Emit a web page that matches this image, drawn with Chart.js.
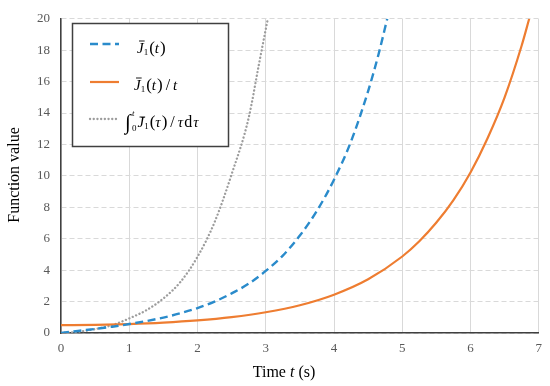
<!DOCTYPE html>
<html><head><meta charset="utf-8">
<script src="https://cdn.jsdelivr.net/npm/chart.js@4.4.1/dist/chart.umd.min.js"></script>
<style>html,body{margin:0;padding:0;background:#fff;}#wrap{width:550px;height:386px;position:relative;}</style>
</head><body><div id="wrap"><canvas id="c" width="550" height="386"></canvas></div>
<script>
// ---- data ----
const xTicks = [0,1,2,3,4,5,6,7];
const yTicks = [0,2,4,6,8,10,12,14,16,18,20];
const tBlue = [0,0.25,0.5,0.75,1,1.25,1.5,1.75,2,2.25,2.5,2.75,3,3.25,3.5,3.75,4,4.25,4.5,4.65,4.78];
const yBlue = [0,0.13,0.26,0.4,0.57,0.76,0.98,1.26,1.59,2.0,2.52,3.14,3.95,4.93,6.2,7.78,9.76,12.2,15.4,17.7,20];
const tOrange = [0,0.5,1,1.5,2,2.5,3,3.5,4,4.5,5,5.25,5.5,5.75,6,6.25,6.5,6.75,6.86];
const yOrange = [0.5,0.52,0.57,0.66,0.8,1.01,1.32,1.77,2.44,3.42,4.87,5.84,7.03,8.46,10.22,12.4,15.0,18.3,20];
const tGrey = [0,0.25,0.5,0.75,1,1.25,1.5,1.75,2,2.25,2.5,2.75,2.9,3.03];
const yGrey = [0,0.08,0.25,0.5,0.93,1.45,2.2,3.25,4.85,7.05,10.1,13.7,17.1,20];
const seriesNames = ['J\u03051(t)', 'J\u03051(t)/t', '\u222B0t J\u03051(\u03C4)/\u03C4d\u03C4'];
const xTitle = ['Time ', 't', ' (s)'];
const yTitle = 'Function value';

const pts = (xs, ys) => xs.map((x, i) => ({x: x, y: ys[i]}));
const SERIF = '"Liberation Serif", "Times New Roman", serif';

function rich(ctx, x, y, parts) {
  for (const p of parts) {
    ctx.font = p.f;
    const w = ctx.measureText(p.t).width;
    const px = x + (p.dx || 0);
    ctx.fillText(p.t, px, y + (p.dy || 0));
    if (p.bar) {
      ctx.save();
      ctx.lineWidth = 0.9;
      ctx.strokeStyle = '#000';
      ctx.beginPath();
      ctx.moveTo(px + 2, y - 12);
      ctx.lineTo(px + w + 1, y - 12);
      ctx.stroke();
      ctx.restore();
    }
    x = px + (p.adv === undefined ? w : p.adv) + (p.sp || 0);
  }
  return x;
}

const I = 'italic 15px ' + SERIF;
const R = '16px ' + SERIF;
const P = '17px ' + SERIF;
const S = '9px ' + SERIF;
const SI = 'italic 9px ' + SERIF;

const overlay = {
  id: 'overlay',
  afterDraw(chart) {
    const ctx = chart.ctx;
    ctx.save();
    // axis titles
    ctx.fillStyle = '#000';
    ctx.textBaseline = 'middle';
    ctx.textAlign = 'center';
    ctx.font = '16px ' + SERIF;
    ctx.save();
    ctx.translate(15, 175);
    ctx.rotate(-Math.PI / 2);
    ctx.fillText(yTitle, 0, 0);
    ctx.restore();
    ctx.textAlign = 'left';
    ctx.textBaseline = 'alphabetic';
    const xt = [{t: xTitle[0], f: R}, {t: xTitle[1], f: 'italic 16px ' + SERIF}, {t: xTitle[2], f: R}];
    let tw = 0;
    for (const p of xt) { ctx.font = p.f; tw += ctx.measureText(p.t).width; }
    rich(ctx, 284 - tw / 2, 377, xt);

    // legend box
    ctx.fillStyle = '#fff';
    ctx.fillRect(72.5, 23.5, 156, 123);
    ctx.strokeStyle = '#404040';
    ctx.lineWidth = 1.5;
    ctx.strokeRect(72.5, 23.5, 156, 123);
    const rowsY = [44, 82, 119];
    chart.data.datasets.forEach((ds, i) => {
      ctx.save();
      ctx.strokeStyle = ds.borderColor;
      ctx.lineWidth = ds.borderWidth;
      ctx.setLineDash(ds.borderDash || []);
      ctx.lineCap = ds.borderCapStyle || 'butt';
      ctx.beginPath();
      ctx.moveTo(90, rowsY[i]);
      ctx.lineTo(119, rowsY[i]);
      ctx.stroke();
      ctx.restore();
    });
    ctx.fillStyle = '#000';
    // row 1: J1(t)
    rich(ctx, 137, 53, [
      {t: 'J', f: I, bar: true}, {t: '1', f: S, dy: 2, sp: 1},
      {t: '(', f: P}, {t: 't', f: I, sp: 1}, {t: ')', f: P}
    ]);
    // row 2: J1(t)/t
    rich(ctx, 134, 90, [
      {t: 'J', f: I, bar: true}, {t: '1', f: S, dy: 2, sp: 1},
      {t: '(', f: P}, {t: 't', f: I, sp: 1}, {t: ')', f: P, sp: 3},
      {t: '/', f: R, sp: 3}, {t: 't', f: I}
    ]);
    // row 3: integral
    rich(ctx, 125, 129, [
      {t: '\u222B', f: 'italic 21px ' + SERIF, adv: 7},
      {t: 't', f: SI, dy: -13, adv: 0},
      {t: '0', f: S, dy: 2, sp: 1},
      {t: 'J', f: I, bar: true, dy: -2}, {t: '1', f: S, sp: 1},
      {t: '(', f: P, dy: -2}, {t: '\u03C4', f: I, sp: 1, dy: -2}, {t: ')', f: P, sp: 3, dy: -2},
      {t: '/', f: R, sp: 3, dy: -2}, {t: '\u03C4', f: I, sp: 1, dy: -2}, {t: 'd', f: R, sp: 1, dy: -2}, {t: '\u03C4', f: I, dy: -2}
    ]);
    ctx.restore();
  }
};

const tickFont = {family: SERIF, size: 13};
new Chart(document.getElementById('c'), {
  type: 'line',
  data: {
    datasets: [
      {label: seriesNames[0], data: pts(tBlue, yBlue), borderColor: '#2A8BCB', borderWidth: 2.4,
       borderDash: [8, 4.5], pointRadius: 0, cubicInterpolationMode: 'monotone', fill: false},
      {label: seriesNames[1], data: pts(tOrange, yOrange), borderColor: '#EE7D31', borderWidth: 2.2,
       pointRadius: 0, cubicInterpolationMode: 'monotone', fill: false},
      {label: seriesNames[2], data: pts(tGrey, yGrey), borderColor: '#9C9C9C', borderWidth: 2.3,
       borderDash: [0.1, 3.6], borderCapStyle: 'round', pointRadius: 0, cubicInterpolationMode: 'monotone', fill: false}
    ]
  },
  options: {
    responsive: false, animation: false, devicePixelRatio: 1,
    layout: {padding: {top: 10, right: 11, left: 0, bottom: 0}},
    plugins: {legend: {display: false}, tooltip: {enabled: false}},
    scales: {
      x: {
        type: 'linear', min: 0, max: 7,
        afterBuildTicks: s => { s.ticks = xTicks.map(v => ({value: v})); },
        afterFit: s => { s.height = 53; },
        ticks: {padding: 8, color: '#595959', font: tickFont, maxRotation: 0},
        grid: {color: '#d9d9d9', lineWidth: 1, drawTicks: false},
        border: {color: '#404040', width: 1.5}
      },
      y: {
        type: 'linear', min: 0, max: 20,
        afterBuildTicks: s => { s.ticks = yTicks.map(v => ({value: v})); },
        afterFit: s => { s.width = 61; },
        ticks: {padding: 11, color: '#595959', font: tickFont},
        grid: {color: '#d9d9d9', lineWidth: 1, drawTicks: false},
        border: {color: '#404040', width: 1.5, dash: [5, 3]}
      }
    }
  },
  plugins: [overlay]
});
</script></body></html>
